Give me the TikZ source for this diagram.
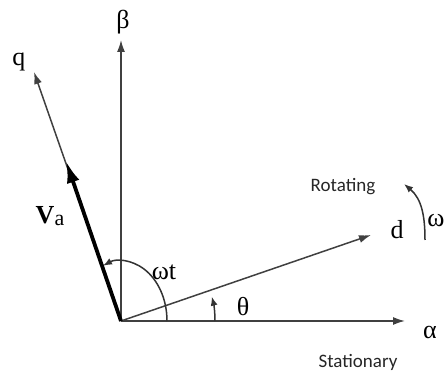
\documentclass[tikz,border=0pt]{standalone}
\usepackage{fontspec}
\setmainfont{Liberation Serif}
\newfontfamily\calib{Carlito}
\usetikzlibrary{arrows.meta, calc}

\begin{document}
\begin{tikzpicture}[
  x=1pt, y=1pt,
  every node/.style={inner sep=0pt, font=\fontsize{26}{30}\selectfont},
  axis/.style={-{Latex[length=12pt, width=8pt]}, line width=1.5pt, color=black!75},
  vec/.style={-{Latex[length=22pt, width=13pt]}, line width=3.8pt},
  turn/.style={-{Latex[length=9pt, width=7pt]}, line width=1.5pt, color=black!80},
  tag/.style={font=\calib\fontsize{19}{22}\selectfont, text=black!85}
]
  \clip (0,0) rectangle (444,374);

  % frame
  \coordinate (O) at (121,53);
  \coordinate (a) at (405,53);
  \coordinate (b) at (121,334);
  \coordinate (q) at (34,302);
  \coordinate (d) at (371,139);
  \coordinate (v) at (66,213);
  \coordinate (w0) at (425,134);
  \coordinate (w1) at (404,190);

  \draw[axis] (O) -- (a);
  \draw[axis] (O) -- (b);
  \draw[axis] (O) -- (q);
  \draw[axis] (O) -- (d);
  \draw[vec] (O) -- (v);

  % angles
  \draw[turn] ($(O)+(46,0)$) arc[start angle=0, end angle=113, x radius=46, y radius=60];
  \draw[turn] ($(O)+(94,0)$) arc[start angle=0, end angle=15, radius=94];
  \draw[turn] (w0) to[out=90, in=-40] (w1);

  % labels
  \node (qlbl) at (19,312) {q};
  \node (blbl) at (123,352) {β};
  \node (dlbl) at (397,144) {d};
  \node (albl) at (430,42) {α};
  \node (wlbl) at (436,153) {ω};
  \node (thlbl) at (243,67) {θ};
  \node (wtlbl) at (164,102) {ωt};
  \node (vlbl) at (50,158) {\textbf{V}\raisebox{-2pt}{\fontsize{22}{26}\selectfont a}};
  \node[tag] (rot) at (343,187) {Rotating};
  \node[tag] (sta) at (358,12) {Stationary};
\end{tikzpicture}
\end{document}
